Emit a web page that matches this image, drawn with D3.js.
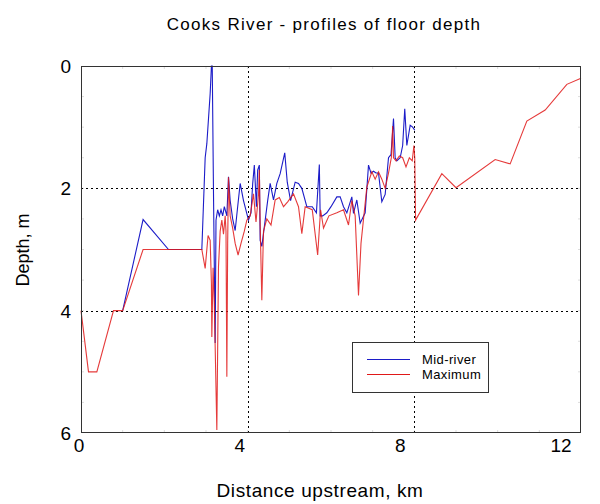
<!DOCTYPE html>
<html>
<head>
<meta charset="utf-8">
<script src="https://cdn.jsdelivr.net/npm/d3@7"></script>
<style>
  body { margin: 0; background: #fff; }
  svg { font-family: "Liberation Sans", Arial, sans-serif; }
</style>
</head>
<body>
<svg id="chart" width="600" height="504"></svg>
<script>
// distance upstream (km) and depth (m)
const midKm = [1.0, 1.49, 2.1, 2.9, 2.98, 3.02, 3.1, 3.13, 3.15, 3.18, 3.22, 3.24, 3.28, 3.32, 3.36, 3.4, 3.44, 3.5, 3.54, 3.58, 3.64, 3.7, 3.76, 3.82, 3.9, 4.02, 4.08, 4.12, 4.16, 4.21, 4.24, 4.28, 4.3, 4.34, 4.4, 4.48, 4.54, 4.62, 4.7, 4.78, 4.89, 4.95, 5.03, 5.14, 5.22, 5.3, 5.42, 5.55, 5.65, 5.72, 5.74, 5.8, 5.9, 6.0, 6.14, 6.22, 6.3, 6.38, 6.5, 6.54, 6.62, 6.7, 6.82, 6.9, 6.96, 7.02, 7.08, 7.14, 7.22, 7.3, 7.38, 7.44, 7.5, 7.54, 7.58, 7.66, 7.72, 7.77, 7.82, 7.9, 7.96, 8.01];
const midDepth = [4.0, 2.51, 3.0, 3.0, 1.5, 1.27, 0.45, 0.0, 0.0, 2.09, 4.53, 2.52, 2.35, 2.45, 2.35, 2.45, 2.3, 2.45, 1.81, 2.2, 2.5, 2.69, 2.3, 1.92, 2.2, 2.52, 2.4, 1.93, 1.62, 2.3, 1.7, 1.62, 2.85, 2.95, 2.63, 2.2, 1.92, 2.19, 1.92, 1.76, 1.42, 1.9, 2.2, 1.9, 1.92, 2.0, 2.3, 2.3, 2.4, 1.61, 2.45, 2.45, 2.4, 2.3, 2.14, 2.14, 2.3, 2.4, 2.14, 2.41, 2.19, 2.57, 2.4, 1.62, 1.75, 1.72, 1.75, 1.75, 2.22, 2.1, 1.5, 1.45, 0.86, 1.5, 1.55, 1.5, 1.3, 0.7, 1.3, 0.97, 1.0, 1.05];

const maxKm = [0, 0.18, 0.38, 0.78, 1.0, 1.49, 2.9, 2.98, 3.05, 3.1, 3.13, 3.14, 3.17, 3.2, 3.26, 3.3, 3.34, 3.38, 3.42, 3.46, 3.48, 3.5, 3.52, 3.54, 3.58, 3.64, 3.7, 3.77, 3.84, 3.92, 3.98, 4.06, 4.14, 4.2, 4.26, 4.28, 4.3, 4.34, 4.38, 4.46, 4.56, 4.66, 4.76, 4.86, 4.96, 5.1, 5.22, 5.3, 5.38, 5.55, 5.68, 5.75, 5.82, 5.95, 6.14, 6.3, 6.42, 6.5, 6.58, 6.66, 6.72, 6.86, 6.98, 7.06, 7.14, 7.22, 7.3, 7.38, 7.45, 7.48, 7.5, 7.56, 7.64, 7.72, 7.8, 7.88, 7.95, 7.99, 8.01, 8.03, 8.66, 9.0, 9.94, 10.3, 10.7, 11.14, 11.66, 12.0];
const maxDepth = [4.0, 5.0, 5.0, 4.0, 4.0, 3.0, 3.0, 3.31, 2.77, 2.85, 3.56, 4.43, 3.3, 3.9, 5.95, 3.28, 2.7, 2.52, 2.75, 2.45, 2.7, 5.08, 2.9, 1.82, 2.45, 2.65, 2.9, 3.09, 2.9, 2.7, 2.52, 2.45, 2.09, 2.55, 2.1, 1.7, 2.6, 3.83, 2.7, 2.5, 2.6, 2.19, 2.15, 2.3, 2.22, 2.09, 2.3, 2.74, 2.3, 2.35, 3.09, 2.35, 2.65, 2.45, 2.4, 2.35, 2.6, 2.2, 2.45, 3.75, 2.9, 1.98, 1.73, 1.85, 1.73, 1.85, 2.0, 1.75, 1.49, 0.98, 1.5, 1.55, 1.47, 1.5, 1.65, 1.5, 1.55, 1.3, 1.5, 2.52, 1.76, 1.99, 1.53, 1.6, 0.9, 0.72, 0.3, 0.2];

const xTicks = [0, 4, 8, 12];
const yTicks = [0, 2, 4, 6];
const seriesNames = ["Mid-river", "Maximum"];
const seriesColors = ["#1c1cc8", "#e01818"];

const svg = d3.select("#chart");
const margin = { top: 66, left: 81, width: 500, height: 367 };

const x = d3.scaleLinear().domain([0, 12]).range([margin.left, margin.left + margin.width]);
const y = d3.scaleLinear().domain([0, 6]).range([margin.top, margin.top + margin.height]);
// the tick labels in the original drift left of their ticks
const xLab = d3.scaleLinear().domain([0, 12]).range([79, 561]);

svg.append("text")
  .attr("x", 324).attr("y", 30)
  .attr("text-anchor", "middle")
  .style("font-size", "17px")
  .style("letter-spacing", "1.3px")
  .text("Cooks River - profiles of floor depth");

// faint minor ticks
const g = svg.append("g");
g.selectAll("line.mx")
  .data(d3.range(1, 12))
  .join("line")
  .attr("x1", d => x(d)).attr("x2", d => x(d))
  .attr("y1", margin.top).attr("y2", margin.top + 3)
  .attr("stroke", "#ddd");
g.selectAll("line.mxb")
  .data(d3.range(1, 12))
  .join("line")
  .attr("x1", d => x(d)).attr("x2", d => x(d))
  .attr("y1", margin.top + margin.height - 3).attr("y2", margin.top + margin.height)
  .attr("stroke", "#ddd");
g.selectAll("line.my")
  .data(d3.range(0.5, 6, 0.5))
  .join("line")
  .attr("x1", margin.left).attr("x2", margin.left + 3)
  .attr("y1", d => y(d)).attr("y2", d => y(d))
  .attr("stroke", "#ddd");
g.selectAll("line.myr")
  .data(d3.range(0.5, 6, 0.5))
  .join("line")
  .attr("x1", margin.left + margin.width - 3).attr("x2", margin.left + margin.width)
  .attr("y1", d => y(d)).attr("y2", d => y(d))
  .attr("stroke", "#ddd");

// dotted grid
g.selectAll("line.gx")
  .data(xTicks.slice(1, -1))
  .join("line")
  .attr("x1", d => Math.round(x(d)) + 0.5).attr("x2", d => Math.round(x(d)) + 0.5)
  .attr("y1", margin.top).attr("y2", margin.top + margin.height)
  .attr("stroke", "#000").attr("stroke-dasharray", "2,3");
g.selectAll("line.gy")
  .data(yTicks.slice(1, -1))
  .join("line")
  .attr("x1", margin.left).attr("x2", margin.left + margin.width)
  .attr("y1", d => Math.round(y(d)) + 0.5).attr("y2", d => Math.round(y(d)) + 0.5)
  .attr("stroke", "#000").attr("stroke-dasharray", "2,3");

const line = d3.line().x(d => x(d[0])).y(d => y(d[1]));

svg.append("path")
  .datum(d3.zip(midKm, midDepth))
  .attr("fill", "none")
  .attr("stroke", seriesColors[0])
  .attr("stroke-width", 1.1)
  .attr("d", line);

svg.append("path")
  .datum(d3.zip(maxKm, maxDepth))
  .attr("fill", "none")
  .attr("stroke", seriesColors[1])
  .attr("stroke-width", 1.1)
  .attr("stroke-opacity", 0.85)
  .attr("d", line);

// frame
svg.append("rect")
  .attr("x", margin.left + 0.5).attr("y", margin.top + 0.5)
  .attr("width", margin.width - 1).attr("height", margin.height - 1)
  .attr("fill", "none").attr("stroke", "#333");

// tick labels
svg.selectAll("text.xt")
  .data(xTicks)
  .join("text")
  .attr("x", d => xLab(d)).attr("y", 452)
  .attr("text-anchor", "middle")
  .style("font-size", "19px")
  .text(d => d);

svg.selectAll("text.yt")
  .data(yTicks)
  .join("text")
  .attr("x", 71).attr("y", d => y(d) + 7)
  .attr("text-anchor", "end")
  .style("font-size", "19px")
  .text(d => d);

svg.append("text")
  .attr("x", 320).attr("y", 497)
  .attr("text-anchor", "middle")
  .style("font-size", "19px")
  .style("letter-spacing", "0.6px")
  .text("Distance upstream, km");

svg.append("text")
  .attr("transform", "translate(29,250) rotate(-90)")
  .attr("text-anchor", "middle")
  .style("font-size", "18px")
  .text("Depth, m");

// legend
const leg = svg.append("g");
leg.append("rect")
  .attr("x", 352.5).attr("y", 342.5)
  .attr("width", 136).attr("height", 50)
  .attr("fill", "#fff").attr("stroke", "#333");
leg.selectAll("line.l")
  .data(seriesNames)
  .join("line")
  .attr("x1", 367).attr("x2", 410)
  .attr("y1", (d, i) => 359.5 + i * 15).attr("y2", (d, i) => 359.5 + i * 15)
  .attr("stroke", (d, i) => seriesColors[i]);
leg.selectAll("text.l")
  .data(seriesNames)
  .join("text")
  .attr("x", 422).attr("y", (d, i) => 364 + i * 15)
  .style("font-size", "13px")
  .style("letter-spacing", "0.4px")
  .text(d => d);
</script>
</body>
</html>
